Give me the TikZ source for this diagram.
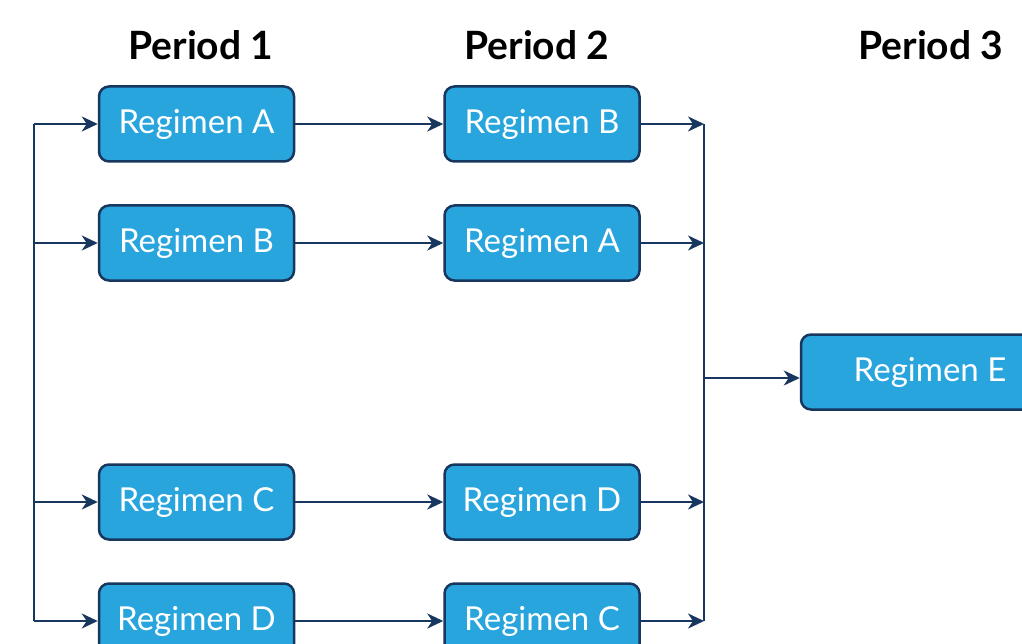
\documentclass[tikz,border=0pt]{standalone}
\usepackage{fontspec}
\setmainfont{Lato}
\usetikzlibrary{arrows.meta}
\definecolor{boxfill}{HTML}{29A5DE}
\definecolor{navy}{HTML}{17375E}
\tikzset{
  regbox/.style={draw=navy, line width=2.5pt, fill=boxfill, rounded corners=10pt,
    minimum width=195pt, minimum height=75pt, inner sep=0pt, text=white,
    font=\fontsize{33}{36}\selectfont},
  conn/.style={draw=navy, line width=2.5pt},
  arr/.style={conn, -{Stealth[length=16pt,width=15pt,inset=5pt]}},
  period/.style={font=\fontsize{39}{42}\selectfont\bfseries, text=black}
}
\begin{document}
\begin{tikzpicture}[x=1pt,y=-1pt]
\useasboundingbox (0,0) rectangle (1022,644);
\clip (0,0) rectangle (1022,644);
\fill[white] (0,0) rectangle (1022,644);
\node[period] (p1) at (201,45) {Period 1};
\node[period] (p2) at (537,45) {Period 2};
\node[period] (p3) at (931,45) {Period 3};
\node[regbox] (a1) at (196.5,124) {Regimen A};
\node[regbox] (b1) at (196.5,243) {Regimen B};
\node[regbox] (c1) at (196.5,502) {Regimen C};
\node[regbox] (d1) at (196.5,621) {Regimen D};
\node[regbox] (b2) at (542,124) {Regimen B};
\node[regbox] (a2) at (542,243) {Regimen A};
\node[regbox] (d2) at (542,502) {Regimen D};
\node[regbox] (c2) at (542,621) {Regimen C};
\node[regbox, minimum width=258pt] (e3) at (930,372) {Regimen E};
\coordinate (lt) at (34,124);
\coordinate (lb) at (34,621);
\coordinate (rt) at (704,124);
\coordinate (rb) at (704,621);
\coordinate (rm) at (704,378);
\draw[conn] (lt) -- (lb);
\draw[conn] (rt) -- (rb);
\foreach \n in {a1,b1,c1,d1}{
  \draw[arr] (lt |- \n.west) -- (\n.west);
}
\draw[arr] (a1) -- (b2);
\draw[arr] (b1) -- (a2);
\draw[arr] (c1) -- (d2);
\draw[arr] (d1) -- (c2);
\foreach \n in {b2,a2,d2,c2}{
  \draw[arr] (\n.east) -- (rt |- \n.east);
}
\draw[arr] (rm) -- (rm -| e3.west);
\end{tikzpicture}
\end{document}
